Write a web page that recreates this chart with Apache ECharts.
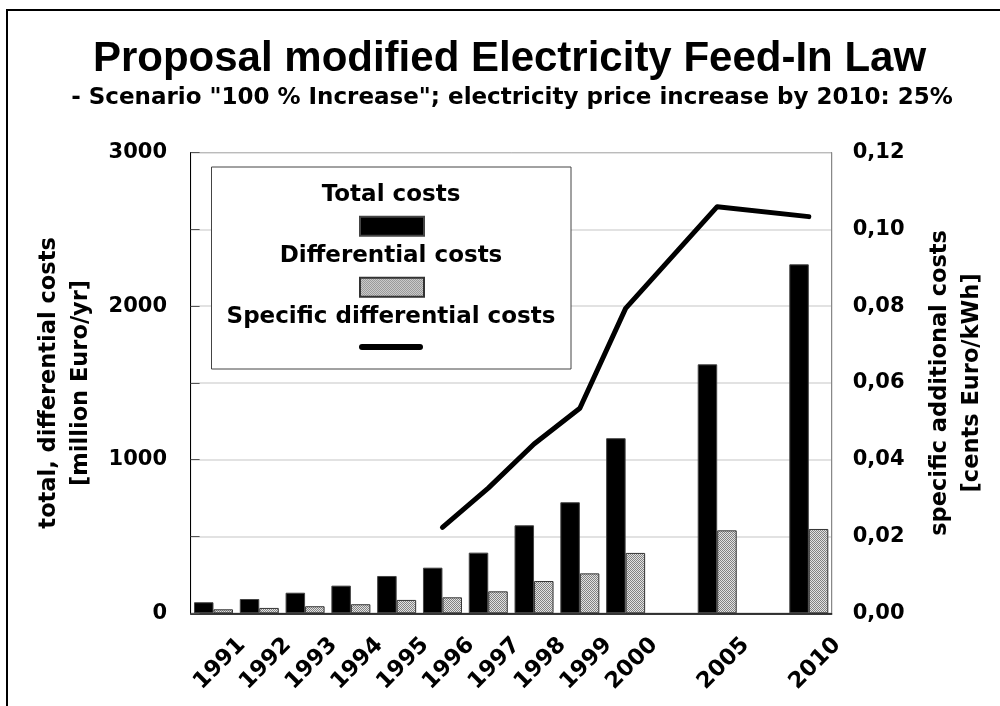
<!DOCTYPE html>
<html>
<head>
<meta charset="utf-8">
<script src="https://cdn.jsdelivr.net/npm/echarts@6/dist/echarts.min.js"></script>
<style>
html,body{margin:0;padding:0;background:#fff;}
#chart{width:1000px;height:706px;}
</style>
</head>
<body>
<div id="chart"></div>
<script>
// ---- data ----
const titleText = 'Proposal modified Electricity Feed-In Law';
const subtitleText = '- Scenario "100 % Increase"; electricity price increase by 2010: 25%';
const years = ['1991','1992','1993','1994','1995','1996','1997','1998','1999','2000','','2005','','2010'];
const totalCosts = [72, 93, 134, 180, 243, 297, 395, 573, 723, 1140, null, 1621, null, 2272];
const diffCosts = [26, 35, 46, 59, 87, 104, 143, 210, 260, 393, null, 540, null, 549];
const specificCosts = [null, null, null, null, null, 0.0224, 0.0326, 0.0441, 0.0534, 0.0794, null, 0.1059, null, 0.1033];
const seriesNames = ['Total costs', 'Differential costs', 'Specific differential costs'];
const leftAxisName = 'total, differential costs\n[million Euro/yr]';
const rightAxisName = 'specific additional costs\n[cents Euro/kWh]';

// ---- pattern for grey bars ----
const pc = document.createElement('canvas');
pc.width = 2; pc.height = 2;
const pctx = pc.getContext('2d');
pctx.fillStyle = '#e2e2e2'; pctx.fillRect(0,0,2,2);
pctx.fillStyle = '#828282'; pctx.fillRect(0,0,1,1); pctx.fillRect(1,1,1,1);
const greyPattern = { image: pc, repeat: 'repeat' };

const FONT = 'DejaVu Sans';
const chart = echarts.init(document.getElementById('chart'), null, {renderer: 'canvas'});

const legendTextY = [195, 256, 317];
const legendIconTop = [215.7, 276.7, 344];
const lineIcon = 'path://M3,0 L61,0 A3,3 0 0 1 61,6 L3,6 A3,3 0 0 1 3,0 Z';

function legendFor(i, icon, h) {
  return {
    orient: 'vertical', left: 359, top: legendIconTop[i], padding: 0,
    itemWidth: 64, itemHeight: h, icon: icon,
    data: [seriesNames[i]], formatter: function(){ return ''; },
    selectedMode: false, z: 6, textStyle: { fontSize: 1 }
  };
}

const option = {
  backgroundColor: '#fff',
  animation: false,
  title: [
    { text: titleText, left: 509.5, top: 38.5, padding: 0, textAlign: 'center',
      textStyle: { fontFamily: 'Liberation Sans', fontWeight: 'bold', fontSize: 42, color: '#000' } },
    { text: subtitleText, left: 512, top: 86.5, padding: 0, textAlign: 'center',
      textStyle: { fontFamily: FONT, fontWeight: 'bold', fontSize: 23, color: '#000' } }
  ],
  grid: { left: 190.6, right: 168.3, top: 152.5, bottom: 92.7, show: true, borderColor: '#666', borderWidth: 1 },
  legend: [
    legendFor(0, 'rect', 19),
    legendFor(1, 'rect', 19),
    legendFor(2, lineIcon, 6)
  ],
  xAxis: {
    type: 'category', data: years, boundaryGap: true,
    axisLine: { lineStyle: { color: '#000', width: 1.5 } },
    axisTick: { show: false },
    axisLabel: { interval: 0, rotate: 45, align: 'center', verticalAlign: 'middle', margin: 56.7,
      padding: [0, 0, 0, 18],
      fontFamily: FONT, fontWeight: 'bold', fontSize: 22.5, color: '#000' },
    splitLine: { show: false }
  },
  yAxis: [
    { type: 'value', min: 0, max: 3000, interval: 500, position: 'left',
      axisLine: { show: true, lineStyle: { color: '#000', width: 1 } },
      axisTick: { show: true, inside: true, length: 9, lineStyle: { color: '#555' } },
      axisLabel: { margin: 23.6, fontFamily: FONT, fontWeight: 'bold', fontSize: 21, color: '#000',
        formatter: function(v){ return v % 1000 === 0 ? String(v) : ''; } },
      splitLine: { show: true, lineStyle: { color: '#d8d8d8', width: 1.5 } },
      name: leftAxisName, nameLocation: 'middle', nameRotate: 90, nameGap: 92,
      nameTextStyle: { fontFamily: FONT, fontWeight: 'bold', fontSize: 22.5, color: '#000', lineHeight: 32, align: 'center' }
    },
    { type: 'value', min: 0, max: 0.12, interval: 0.02, position: 'right',
      axisLine: { show: true, lineStyle: { color: '#888', width: 1 } },
      axisTick: { show: false },
      axisLabel: { margin: 21, fontFamily: FONT, fontWeight: 'bold', fontSize: 21, color: '#000',
        formatter: function(v){ return v.toFixed(2).replace('.', ','); } },
      splitLine: { show: false },
      name: rightAxisName, nameLocation: 'middle', nameRotate: 90, nameGap: 92,
      nameTextStyle: { fontFamily: FONT, fontWeight: 'bold', fontSize: 22.5, color: '#000', lineHeight: 32, align: 'center' }
    }
  ],
  series: [
    { name: seriesNames[0], type: 'bar', data: totalCosts, barWidth: 19.5, barGap: '0%',
      itemStyle: { color: '#000', borderColor: '#444', borderWidth: 1 }, z: 2 },
    { name: seriesNames[1], type: 'bar', data: diffCosts, barWidth: 19.5, barGap: '0%',
      itemStyle: { color: greyPattern, borderColor: '#333', borderWidth: 1 }, z: 2 },
    { name: seriesNames[2], type: 'line', yAxisIndex: 1, data: specificCosts, connectNulls: true,
      symbol: 'none', showSymbol: false,
      lineStyle: { color: '#000', width: 5, cap: 'round', join: 'round' },
      itemStyle: { color: '#000', borderWidth: 0 }, z: 3 }
  ],
  graphic: [
    { type: 'rect', silent: true, z: 10, shape: { x: 7, y: 10, width: 1200, height: 900 },
      style: { fill: null, stroke: '#000', lineWidth: 2 } },
    { type: 'rect', silent: true, z: 3, shape: { x: 211.5, y: 167, width: 359.5, height: 202 },
      style: { fill: '#fff', stroke: '#444', lineWidth: 1 } },
    { type: 'text', silent: true, z: 7, x: 391, y: legendTextY[0],
      style: { text: seriesNames[0], font: 'bold 23px "DejaVu Sans"', fill: '#000', textAlign: 'center', textVerticalAlign: 'middle' } },
    { type: 'text', silent: true, z: 7, x: 391, y: legendTextY[1],
      style: { text: seriesNames[1], font: 'bold 23px "DejaVu Sans"', fill: '#000', textAlign: 'center', textVerticalAlign: 'middle' } },
    { type: 'text', silent: true, z: 7, x: 391, y: legendTextY[2],
      style: { text: seriesNames[2], font: 'bold 23px "DejaVu Sans"', fill: '#000', textAlign: 'center', textVerticalAlign: 'middle' } }
  ]
};
chart.setOption(option);
</script>
</body>
</html>
